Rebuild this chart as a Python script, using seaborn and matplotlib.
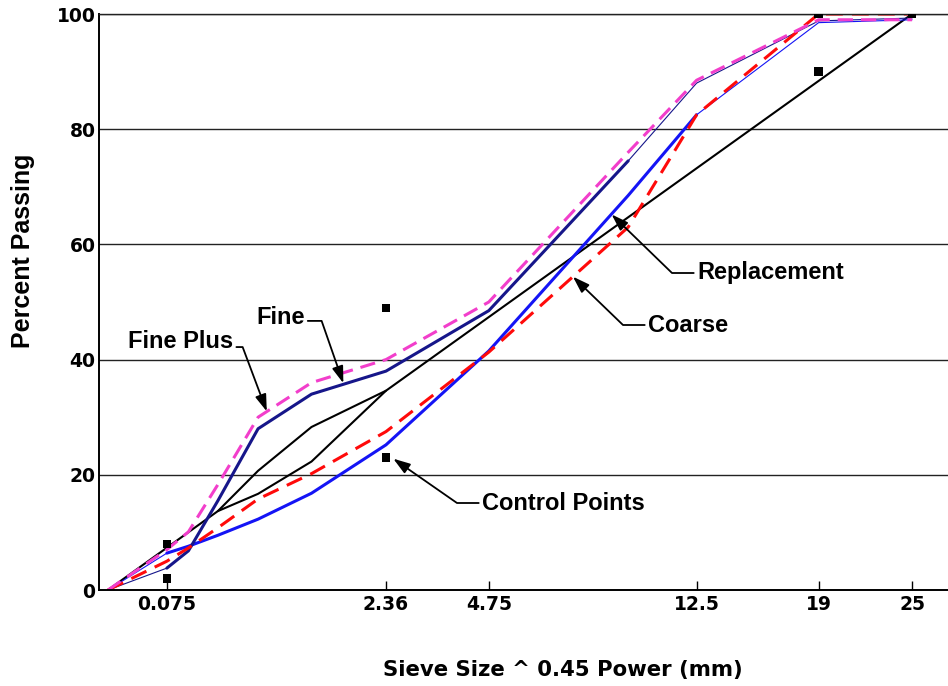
import math
import numpy as np
import matplotlib
matplotlib.use("Agg")
import matplotlib.pyplot as plt
import seaborn as sns

# Sieve sizes (mm) and percent passing for each blend
sieve_mm = [0, 0.075, 0.15, 0.3, 0.6, 1.18, 2.36, 4.75, 9.5, 12.5, 19, 25]
fine_plus = [0, 7.0, 10.1, 18.3, 30.0, 36.0, 40.0, 50.0, 76.0, 88.5, 99.0, 99.0]
fine = [0, 3.8, 6.8, 15.5, 28.0, 34.0, 38.0, 48.5, 74.5, 88.0, 98.8, 99.3]
replacement = [0, 6.4, 7.6, 9.5, 12.3, 16.8, 25.2, 41.5, 68.5, 82.5, 98.5, 99.0]
coarse = [0, 5.0, 7.3, 10.8, 15.8, 20.2, 27.5, 41.3, 63.0, 82.5, 100, 100]

# Maximum density line with the restricted zone (19 mm nominal size)
rz_upper_mm = [0, 0.3, 0.6, 1.18, 2.36, 25]
rz_upper_pct = [0, 13.7, 20.7, 28.3, 34.6, 100]
rz_lower_mm = [0.3, 0.6, 1.18, 2.36]
rz_lower_pct = [13.7, 16.7, 22.3, 34.6]

# Superpave control points
control_mm = [0.075, 0.075, 2.36, 2.36, 19, 19, 25]
control_pct = [2, 8, 23, 49, 90, 100, 100]

tick_mm = [0.075, 2.36, 4.75, 12.5, 19, 25]
tick_labels = ["0.075", "2.36", "4.75", "12.5", "19", "25"]
y_ticks = [0, 20, 40, 60, 80, 100]

MAGENTA = "#f23ecb"
NAVY = "#16168a"
BLUE = "#1414f5"
RED = "#ff0a0a"

sns.set_style("white")
plt.rcParams["font.family"] = ["DejaVu Sans"]
plt.rcParams["font.weight"] = "bold"
plt.rcParams["axes.labelweight"] = "bold"
plt.rcParams["text.color"] = "black"
plt.rcParams["axes.labelcolor"] = "black"
plt.rcParams["xtick.color"] = "black"
plt.rcParams["ytick.color"] = "black"

W, H = 948, 686
fig = plt.figure(figsize=(W / 100, H / 100), dpi=100)
ax = fig.add_axes([99 / W, 96 / H, 849 / W, 576 / H])


def line(x, y, **kw):
    sns.lineplot(x=x, y=y, ax=ax, estimator=None, sort=False, legend=False, **kw)


# max density line / restricted zone
line(rz_upper_mm, rz_upper_pct, color="black", linewidth=1.5)
line(rz_lower_mm, rz_lower_pct, color="black", linewidth=1.5)

# Replacement (blue): thin at the ends, thick in the middle
line(sieve_mm[0:2], replacement[0:2], color=BLUE, linewidth=0.8)
line(sieve_mm[1:10], replacement[1:10], color=BLUE, linewidth=2.2)
line(sieve_mm[9:], replacement[9:], color=BLUE, linewidth=0.8)

# Fine (navy)
line(sieve_mm[0:2], fine[0:2], color=NAVY, linewidth=0.8)
line(sieve_mm[1:9], fine[1:9], color=NAVY, linewidth=2.2)
line(sieve_mm[8:], fine[8:], color=NAVY, linewidth=0.8)

# Coarse (red dashed) and Fine Plus (magenta dashed)
line(sieve_mm, coarse, color=RED, linewidth=2.2, linestyle=(0, (5.5, 3.0)))
line(sieve_mm, fine_plus, color=MAGENTA, linewidth=2.2, linestyle=(0, (5.0, 2.6)))

sns.scatterplot(x=control_mm, y=control_pct, ax=ax, marker="s", s=36,
                color="black", edgecolor="none", zorder=5, legend=False)

# 0.45 power gradation scale on x
def fwd(x):
    x = np.asarray(x, dtype=float)
    return np.sign(x) * np.abs(x) ** 0.45


def inv(t):
    t = np.asarray(t, dtype=float)
    return np.sign(t) * np.abs(t) ** (1 / 0.45)


ax.set_xscale("function", functions=(fwd, inv))
ax.set_xlim(inv(-0.0476), inv(4.447))
ax.set_ylim(0, 100)

ax.set_xticks(tick_mm)
ax.set_xticklabels(tick_labels)
ax.xaxis.set_minor_locator(matplotlib.ticker.NullLocator())
ax.set_yticks(y_ticks)
ax.set_yticklabels([str(v) for v in y_ticks])
ax.tick_params(axis="x", direction="in", length=6.5, width=1.0, color="black",
               pad=3.5, labelsize=13.5, bottom=True, labelcolor="black")
ax.tick_params(axis="y", length=0, pad=2.5, labelsize=13.5, labelcolor="black")

ax.set_axisbelow(True)
ax.yaxis.grid(True, color="#222222", linewidth=1.0)
ax.xaxis.grid(False)
for side in ("left", "bottom"):
    ax.spines[side].set_color("black")
    ax.spines[side].set_linewidth(1.4)
ax.spines["top"].set_color("#222222")
ax.spines["top"].set_linewidth(1.0)
ax.spines["right"].set_visible(False)

ax.set_xlabel("Sieve Size ^ 0.45 Power (mm)", fontsize=15.3, fontweight="bold",
              color="black")
ax.xaxis.set_label_coords((563 - 99) / 849, (590 - 670) / 576)
ax.xaxis.label.set_va("center")

ax.set_ylabel("Percent Passing", fontsize=18, fontweight="bold", color="black",
              family=["Liberation Sans", "DejaVu Sans"])
ax.yaxis.set_label_coords((23 - 99) / 849, (590 - 251) / 576)
ax.yaxis.label.set_va("center")

# Callouts: label text, tip on curve (mm, %), text anchor (px), leader corner (px), leader start
callouts = [
    ("Fine Plus", (0.68, 31.0), (128, 342), (243, 348), (1.0, 0.28)),
    ("Fine", (1.63, 35.9), (256, 317), (322, 322), (1.0, 0.33)),
    ("Replacement", (8.84, 65.2), (697, 273), (672, 273), (0.0, 0.5)),
    ("Coarse", (7.40, 54.4), (648, 325), (623, 325), (0.0, 0.5)),
    ("Control Points", (2.50, 22.8), (482, 503), (457, 503), (0.0, 0.5)),
]
for text, tip, anchor, corner, relpos in callouts:
    tx, ty = ax.transData.transform(tip)
    cx, cy = corner[0], H - corner[1]
    angle_b = math.degrees(math.atan2(ty - cy, tx - cx))
    ax.annotate(
        text, xy=tip, xycoords="data",
        xytext=(anchor[0], H - anchor[1]), textcoords="figure pixels",
        ha="left", va="center", fontsize=17, fontweight="bold", color="black",
        family=["Liberation Sans", "DejaVu Sans"],
        arrowprops=dict(
            arrowstyle="-|>,head_length=0.6,head_width=0.2",
            connectionstyle=f"angle,angleA=0,angleB={angle_b:.2f},rad=0",
            color="black", lw=1.3, shrinkA=0, shrinkB=0, relpos=relpos,
        ),
        zorder=6,
    )

fig.savefig("out.png", dpi=100)
